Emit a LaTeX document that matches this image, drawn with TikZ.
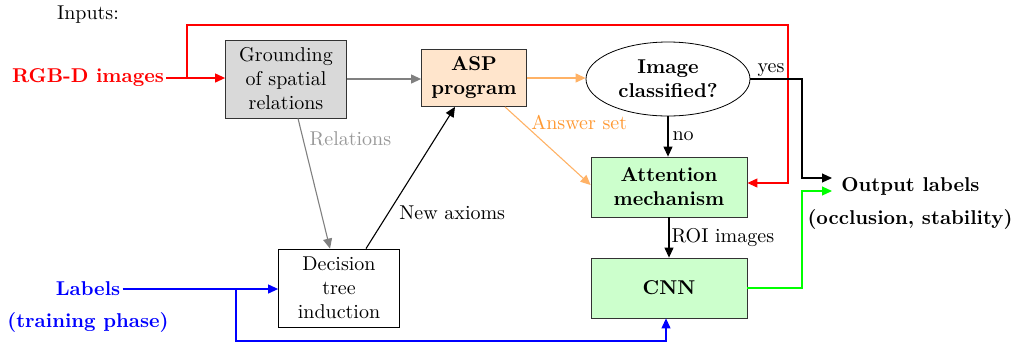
\documentclass[tikz,border=0pt]{standalone}
\usetikzlibrary{shapes.geometric,arrows.meta}
\tikzset{
  box/.style={draw=black!80, align=center, inner sep=0pt},
  arr/.style={-{Triangle[length=5pt,width=4.5pt]}, line width=0.55pt},
  lbl/.style={font=\bfseries, align=center, inner sep=1pt},
}
\begin{document}
\begin{tikzpicture}[x=0.5pt,y=-0.5pt]
\useasboundingbox (0,0) rectangle (1016,344);
% input/output texts
\node[inner sep=1pt] (inputs) at (88,15) {Inputs:};
\node[lbl, text=red] (rgb) at (88,78) {RGB-D images};
\node[lbl, text=blue] (labels) at (88,289) {Labels};
\node[lbl, text=blue] (train) at (88,322) {(training phase)};
\node[lbl, anchor=west, inner sep=4.5pt] (out) at (832,186) {Output labels};
\node[lbl] (outb) at (910,219) {(occlusion, stability)};
% boxes
\node[box, fill=gray!30, minimum width=60.5pt, minimum height=39pt] (ground) at (286,79) {Grounding\\of spatial\\relations};
\node[box, fill=orange!20, minimum width=52.5pt, minimum height=28.5pt, font=\bfseries] (asp) at (474,78) {ASP\\program};
\node[ellipse, draw, align=center, inner sep=0pt, minimum width=82pt, minimum height=37pt, font=\bfseries] (ell) at (668,79) {Image\\classified?};
\node[box, fill=green!20, minimum width=78pt, minimum height=30pt, font=\bfseries] (att) at (669,187) {Attention\\mechanism};
\node[box, fill=green!20, minimum width=78pt, minimum height=30pt, font=\bfseries] (cnn) at (669,288) {CNN};
\node[box, draw=black, minimum width=60.5pt, minimum height=39pt] (dec) at (339,288) {Decision\\tree\\induction};
% helper coordinates
\coordinate (rbr) at (187,78);
\coordinate (rtop) at (788,25);
\coordinate (bbr) at (236,289);
\coordinate (bbot) at (236,341);
\coordinate (ycorner) at (802,178);
\coordinate (gcorner) at (802,191);
% red
\draw[arr, red] (rgb.east) -- (ground.west |- rgb.east);
\draw[arr, red] (rbr) |- (rtop) |- ([yshift=2pt]att.east);
% gray
\draw[arr, gray] (ground.east) -- (asp.west |- ground.east);
\draw[arr, gray] ([xshift=6pt]ground.south) -- node[pos=0.16, right, text=gray!80, inner sep=2pt, xshift=1pt] {Relations} ([xshift=-4.5pt]dec.north);
% black new axioms
\draw[arr] ([xshift=13.5pt]dec.north) -- node[pos=0.25, right, xshift=2pt] {New axioms} ([xshift=-9.5pt]asp.south);
% orange
\draw[arr, orange!60] (asp.east) -- (ell.west |- asp.east);
\draw[arr, orange!60] ([xshift=15.5pt]asp.south) -- node[pos=0.2, right, text=orange!80, xshift=1pt] {Answer set} ([yshift=1pt]att.west);
% no
\draw[arr] (ell.south) -- node[right, inner sep=2pt] {no} (ell.south |- att.north);
% yes
\draw[arr] (ell.east) -| node[pos=0.2, above, inner sep=1pt] {yes} (ycorner) -- (ycorner -| out.west);
% ROI
\draw[arr] (att.south) -- node[right, inner sep=1pt] {ROI images} (cnn.north);
% green
\draw[arr, green] (cnn.east) -| (gcorner) -- (gcorner -| out.west);
% blue
\draw[arr, blue] (labels.east) -- (dec.west |- labels.east);
\draw[arr, blue] (bbr) -- (bbot) -| ([xshift=-1.5pt]cnn.south);
\end{tikzpicture}
\end{document}
